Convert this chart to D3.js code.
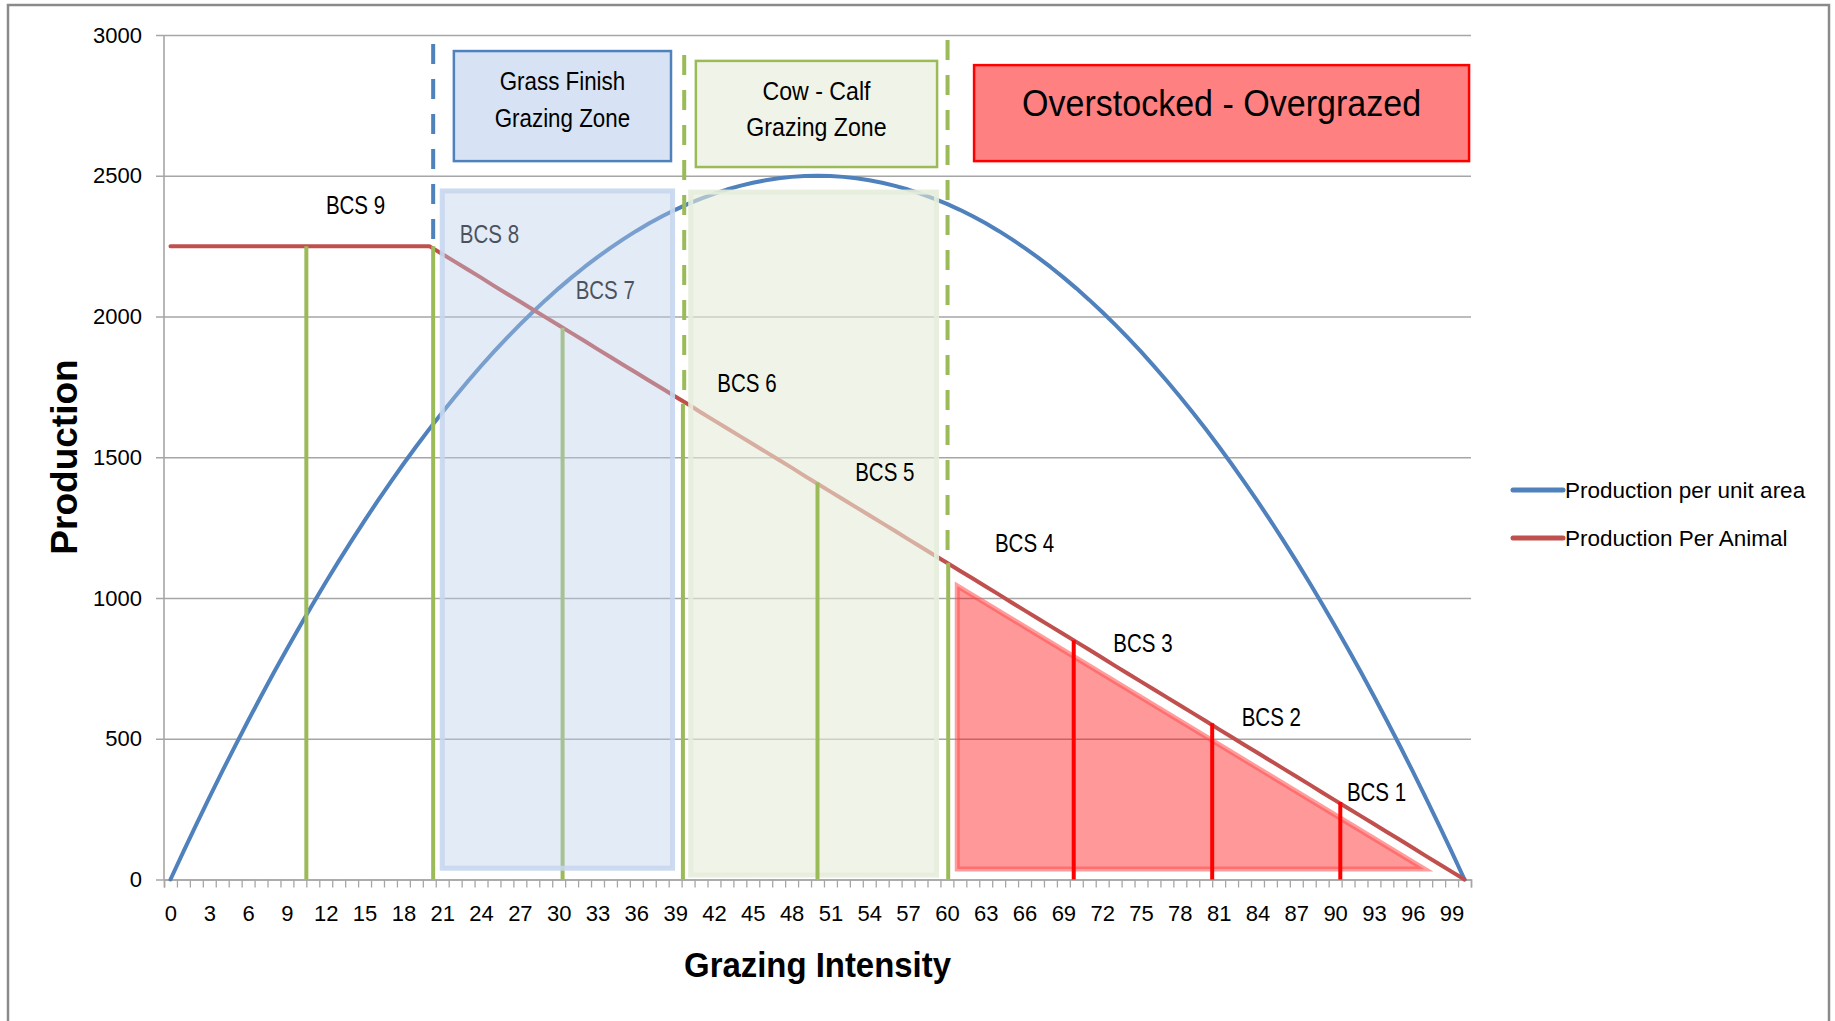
<!DOCTYPE html>
<html>
<head>
<meta charset="utf-8">
<script src="https://cdn.jsdelivr.net/npm/d3@7/dist/d3.min.js"></script>
<style>
  html, body { margin: 0; padding: 0; background: #fff; }
  svg { display: block; }
</style>
</head>
<body>
<svg id="chart" width="1835" height="1021"></svg>
<script>
// ---- data ----
const intensity = d3.range(0, 101); // grazing intensity categories 0..100

// Production per unit area (parabolic response, peak 2500 at 50)
const perArea = [
  0, 99, 196, 291, 384, 475, 564, 651, 736, 819,
  900, 979, 1056, 1131, 1204, 1275, 1344, 1411, 1476, 1539,
  1600, 1659, 1716, 1771, 1824, 1875, 1924, 1971, 2016, 2059,
  2100, 2139, 2176, 2211, 2244, 2275, 2304, 2331, 2356, 2379,
  2400, 2419, 2436, 2451, 2464, 2475, 2484, 2491, 2496, 2499,
  2500, 2499, 2496, 2491, 2484, 2475, 2464, 2451, 2436, 2419,
  2400, 2379, 2356, 2331, 2304, 2275, 2244, 2211, 2176, 2139,
  2100, 2059, 2016, 1971, 1924, 1875, 1824, 1771, 1716, 1659,
  1600, 1539, 1476, 1411, 1344, 1275, 1204, 1131, 1056, 979,
  900, 819, 736, 651, 564, 475, 384, 291, 196, 99,
  0
];

// Production per animal (flat to 20, then falling linearly to 0 at 100)
const perAnimal = [
  2250, 2250, 2250, 2250, 2250, 2250, 2250, 2250, 2250, 2250,
  2250, 2250, 2250, 2250, 2250, 2250, 2250, 2250, 2250, 2250,
  2250, 2222, 2194, 2166, 2138, 2109, 2081, 2053, 2025, 1997,
  1969, 1941, 1913, 1884, 1856, 1828, 1800, 1772, 1744, 1716,
  1688, 1659, 1631, 1603, 1575, 1547, 1519, 1491, 1463, 1434,
  1406, 1378, 1350, 1322, 1294, 1266, 1238, 1209, 1181, 1153,
  1125, 1097, 1069, 1041, 1013, 984, 956, 928, 900, 872,
  844, 816, 788, 759, 731, 703, 675, 647, 619, 591,
  563, 534, 506, 478, 450, 422, 394, 366, 338, 309,
  281, 253, 225, 197, 169, 141, 113, 84, 56, 28,
  0
];

const yTicks = [0, 500, 1000, 1500, 2000, 2500, 3000];
const xTickLabels = d3.range(0, 100, 3); // 0, 3, ... 99

const seriesNames = ["Production per unit area", "Production Per Animal"];
const seriesColors = ["#4f81bd", "#c0504d"];

// body condition score markers: intensity position and production per animal there
const bcsDrops = [
  { bcs: 9, x: 10.5, top: 2250, kind: "green", over: false },
  { bcs: 8, x: 20.3, top: 2250, kind: "green", over: false },
  { bcs: 7, x: 30.3, top: 1960, kind: "green", over: false },
  { bcs: 6, x: 39.6, top: 1690, kind: "green", over: true },
  { bcs: 5, x: 50.0, top: 1410, kind: "green", over: true },
  { bcs: 4, x: 60.1, top: 1125, kind: "green", over: true },
  { bcs: 3, x: 69.8, top: 850, kind: "red", over: true },
  { bcs: 2, x: 80.5, top: 555, kind: "red", over: true },
  { bcs: 1, x: 90.4, top: 275, kind: "red", over: true }
];

// BCS text labels (centre position in intensity / production units)
const bcsLabels = [
  { text: "BCS 9", x: 14.3, y: 2396, under: false },
  { text: "BCS 8", x: 24.65, y: 2293, under: true },
  { text: "BCS 7", x: 33.6, y: 2094, under: true },
  { text: "BCS 6", x: 44.55, y: 1764, under: false },
  { text: "BCS 5", x: 55.2, y: 1448, under: false },
  { text: "BCS 4", x: 66.0, y: 1195, under: false },
  { text: "BCS 3", x: 75.15, y: 839, under: false },
  { text: "BCS 2", x: 85.07, y: 576, under: false },
  { text: "BCS 1", x: 93.2, y: 312, under: false }
];

// zone boundaries drawn dashed above the per-animal curve
const zoneBounds = [
  { x: 20.3, from: 2968, to: 2250, color: "#4f81bd" },
  { x: 39.7, from: 2929, to: 1690, color: "#9bbb59" },
  { x: 60.05, from: 2982, to: 1125, color: "#9bbb59" }
];

// translucent zone shading
const zoneShades = [
  { x0: 21.0, x1: 38.8, y0: 40, y1: 2446, fill: "#b9cde8", fillOpacity: 0.4, stroke: "#c6d7ee", strokeOpacity: 0.9 },
  { x0: 40.2, x1: 59.2, y0: 16, y1: 2442, fill: "#e6edd9", fillOpacity: 0.6, stroke: "#e6eddb", strokeOpacity: 0.9 }
];

// zone caption boxes
const zoneBoxes = [
  { lines: ["Grass Finish", "Grazing Zone"], x0: 21.9, x1: 38.68, y0: 2552, y1: 2943, fill: "#d7e3f4", stroke: "#4f81bd", size: 26, squeeze: 0.86, lead: 37, shift: -7 },
  { lines: ["Cow - Calf", "Grazing Zone"], x0: 40.6, x1: 59.24, y0: 2531, y1: 2908, fill: "#f0f4e8", stroke: "#9bbb59", size: 26, squeeze: 0.89, lead: 36.5, shift: -5.5 },
  { lines: ["Overstocked - Overgrazed"], x0: 62.1, x1: 100.35, y0: 2552, y1: 2893, fill: "#ff8080", stroke: "#ff0000", size: 37, squeeze: 0.92, lead: 0, shift: -10 }
];

// overgrazed wedge beneath the per-animal line
const wedge = [[60.8, 1043], [60.8, 37], [96.9, 37]];

// ---- layout ----
const FONT = '"Liberation Sans", Arial, sans-serif';
const svg = d3.select("#chart");
const plot = { left: 164, right: 1471, top: 35, bottom: 879.5 };

const x = d3.scaleLinear().domain([-0.5, 100.5]).range([plot.left, plot.right]);
const y = d3.scaleLinear().domain([0, 3000]).range([plot.bottom, plot.top]);

// narrow the glyphs of a text element horizontally
function squeeze(sel, f) {
  sel.each(function () {
    const len = this.getComputedTextLength();
    d3.select(this).attr("textLength", len * f).attr("lengthAdjust", "spacingAndGlyphs");
  });
  return sel;
}

// outer frame
svg.append("rect")
  .attr("x", 8).attr("y", 5).attr("width", 1821).attr("height", 1030)
  .attr("fill", "#fff").attr("stroke", "#8a8a8a").attr("stroke-width", 2.5);

// horizontal gridlines + y labels (axis anchored on the right edge so ticks span the plot)
const yAxis = svg.append("g")
  .attr("transform", `translate(${plot.right},0)`)
  .call(d3.axisLeft(y).tickValues(yTicks).tickFormat(d3.format("d"))
    .tickSize(plot.right - plot.left + 8).tickPadding(14));
yAxis.select(".domain").remove();
yAxis.selectAll("line").attr("stroke", "#a6a6a6").attr("stroke-width", 1.6);
yAxis.selectAll("text").attr("font-family", FONT).attr("font-size", 22).attr("fill", "#000");

// y axis line
svg.append("line")
  .attr("x1", plot.left).attr("x2", plot.left)
  .attr("y1", y(3000)).attr("y2", y(0))
  .attr("stroke", "#a6a6a6").attr("stroke-width", 1.6);

// x axis: minor ticks between categories, labels every third category
const xMinor = svg.append("g")
  .attr("transform", `translate(0,${plot.bottom})`)
  .call(d3.axisBottom(x).tickValues(d3.range(-0.5, 101, 1)).tickSize(8).tickFormat(""));
xMinor.select(".domain").attr("stroke", "#a6a6a6").attr("stroke-width", 1.6);
xMinor.selectAll("line").attr("stroke", "#a6a6a6").attr("stroke-width", 1.3);

const xLab = svg.append("g")
  .attr("transform", `translate(0,${plot.bottom})`)
  .call(d3.axisBottom(x).tickValues(xTickLabels).tickSize(0).tickPadding(25.5));
xLab.select(".domain").remove();
xLab.selectAll("text").attr("font-family", FONT).attr("font-size", 22).attr("fill", "#000");

// series lines
const line = d3.line().x((d, i) => x(intensity[i])).y(d => y(d));
[perArea, perAnimal].forEach((s, k) => {
  svg.append("path").datum(s)
    .attr("d", line)
    .attr("fill", "none")
    .attr("stroke", seriesColors[k])
    .attr("stroke-width", 4)
    .attr("stroke-linejoin", "round")
    .attr("stroke-linecap", "round");
});

// drop line drawing helper
function drawDrop(g, d) {
  g.append("line")
    .attr("x1", x(d.x)).attr("x2", x(d.x))
    .attr("y1", y(0)).attr("y2", y(d.top))
    .attr("stroke", d.kind === "red" ? "#ff0000" : "#9bbb59")
    .attr("stroke-width", 4);
}

const BCS_SIZE = 25;
function drawBcsLabel(g, d) {
  g.append("text")
    .attr("x", x(d.x)).attr("y", y(d.y) + BCS_SIZE * 0.36)
    .attr("text-anchor", "middle")
    .attr("font-family", FONT).attr("font-size", BCS_SIZE)
    .attr("fill", "#000")
    .text(d.text)
    .call(squeeze, 0.82);
}

// marks sitting beneath the zone shading
const under = svg.append("g");
bcsDrops.filter(d => !d.over).forEach(d => drawDrop(under, d));
bcsLabels.filter(d => d.under).forEach(d => drawBcsLabel(under, d));

// zone shading
zoneShades.forEach(z => {
  svg.append("rect")
    .attr("x", x(z.x0)).attr("y", y(z.y1))
    .attr("width", x(z.x1) - x(z.x0)).attr("height", y(z.y0) - y(z.y1))
    .attr("fill", z.fill).attr("fill-opacity", z.fillOpacity)
    .attr("stroke", z.stroke).attr("stroke-opacity", z.strokeOpacity)
    .attr("stroke-width", 5);
});

// overgrazed wedge
svg.append("path")
  .datum(wedge)
  .attr("d", d3.line().x(d => x(d[0])).y(d => y(d[1])).curve(d3.curveLinearClosed))
  .attr("fill", "#ff0000").attr("fill-opacity", 0.4)
  .attr("stroke", "#ff4d4d").attr("stroke-opacity", 0.55)
  .attr("stroke-width", 5).attr("stroke-linejoin", "miter");

// marks drawn above the shading
const over = svg.append("g");
bcsDrops.filter(d => d.over).forEach(d => drawDrop(over, d));

zoneBounds.forEach(b => {
  over.append("line")
    .attr("x1", x(b.x)).attr("x2", x(b.x))
    .attr("y1", y(b.from)).attr("y2", y(b.to))
    .attr("stroke", b.color).attr("stroke-width", 4)
    .attr("stroke-dasharray", "20,15");
});

bcsLabels.filter(d => !d.under).forEach(d => drawBcsLabel(over, d));

// zone caption boxes
zoneBoxes.forEach(b => {
  const bx = x(b.x0), by = y(b.y1), bw = x(b.x1) - x(b.x0), bh = y(b.y0) - y(b.y1);
  svg.append("rect")
    .attr("x", bx).attr("y", by).attr("width", bw).attr("height", bh)
    .attr("fill", b.fill).attr("stroke", b.stroke).attr("stroke-width", 2.5);
  const cy = by + bh / 2 + b.shift - (b.lines.length - 1) * b.lead / 2;
  b.lines.forEach((t, i) => {
    svg.append("text")
      .attr("x", bx + bw / 2).attr("y", cy + i * b.lead + b.size * 0.36)
      .attr("text-anchor", "middle")
      .attr("font-family", FONT).attr("font-size", b.size)
      .attr("fill", "#000")
      .text(t)
      .call(squeeze, b.squeeze);
  });
});

// axis titles
svg.append("text")
  .attr("transform", `translate(77,457) rotate(-90)`)
  .attr("text-anchor", "middle")
  .attr("font-family", FONT).attr("font-weight", "bold").attr("font-size", 37)
  .attr("fill", "#000")
  .text("Production");

svg.append("text")
  .attr("x", x(50)).attr("y", 977)
  .attr("text-anchor", "middle")
  .attr("font-family", FONT).attr("font-weight", "bold").attr("font-size", 35)
  .attr("fill", "#000")
  .text("Grazing Intensity")
  .call(squeeze, 0.94);

// legend
const LEG_SIZE = 22.5;
const legend = svg.append("g").attr("transform", "translate(1513,490)");
seriesNames.forEach((n, i) => {
  const g = legend.append("g").attr("transform", `translate(0,${i * 48})`);
  g.append("line").attr("x1", 0).attr("x2", 50).attr("y1", 0).attr("y2", 0)
    .attr("stroke", seriesColors[i]).attr("stroke-width", 5).attr("stroke-linecap", "round");
  g.append("text").attr("x", 52).attr("y", LEG_SIZE * 0.36)
    .attr("font-family", FONT).attr("font-size", LEG_SIZE).attr("fill", "#000")
    .text(n);
});
</script>
</body>
</html>
